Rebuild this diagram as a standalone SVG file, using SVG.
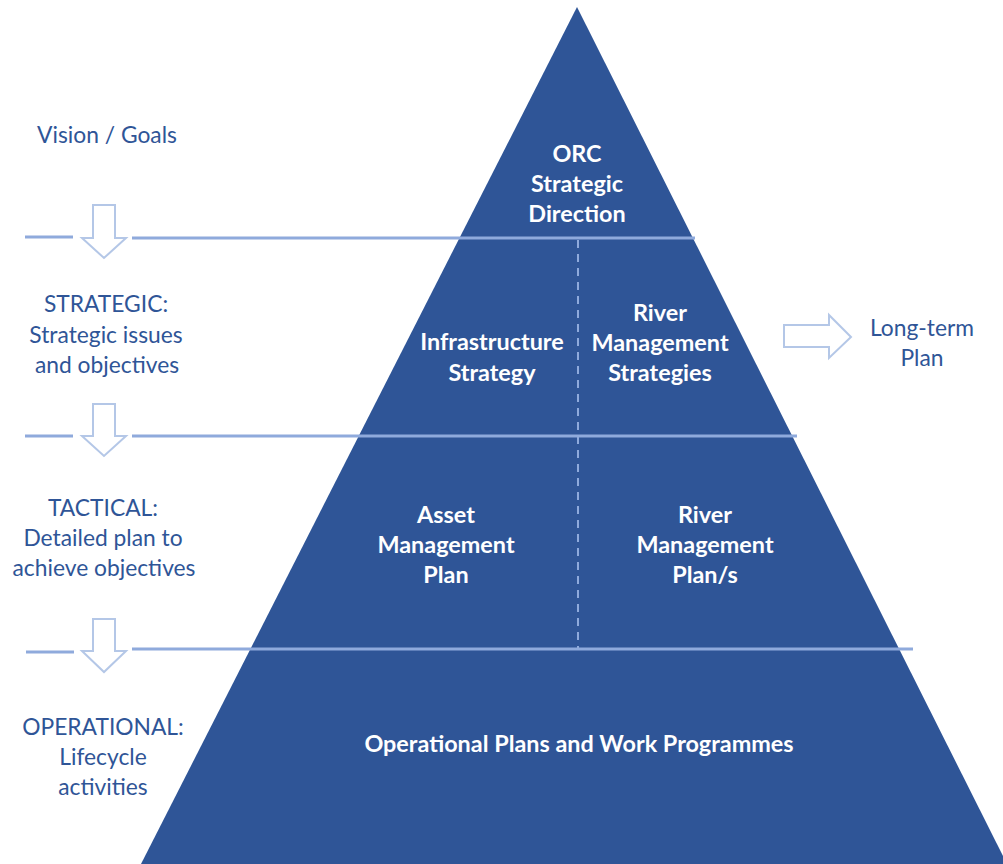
<svg xmlns="http://www.w3.org/2000/svg" width="1003" height="864" viewBox="0 0 1003 864">
<style>
.t{font-family:Lato,"Open Sans","Liberation Sans",sans-serif;font-size:22.8px;text-anchor:middle}
.w{fill:#ffffff;font-weight:bold;font-size:23.4px}
.b{fill:#2F5597}
.ln{stroke:#8FAADC;stroke-width:3;fill:none}
.ar{fill:#ffffff;stroke:#B4C7E7;stroke-width:2}
</style>
<rect width="1003" height="864" fill="#ffffff"/>
<g id="pyramid">
<polygon points="577,7 1007,864 141,864" fill="#2F5597"/>
</g>
<g id="connectors">
<line class="ln" x1="25" y1="237" x2="73" y2="237"/>
<line class="ln" x1="132" y1="238" x2="695" y2="238"/>
<line class="ln" x1="25" y1="436" x2="73" y2="436"/>
<line class="ln" x1="132" y1="436" x2="797" y2="436"/>
<line class="ln" x1="26" y1="652" x2="74" y2="652"/>
<line class="ln" x1="132" y1="649" x2="913" y2="649"/>
<line x1="578" y1="240" x2="578" y2="648" stroke="#8FAADC" stroke-width="2" stroke-dasharray="8,6"/>
<polygon class="ar" points="93,205 115,205 115,238 126,238 104,258 82,238 93,238"/>
<polygon class="ar" points="93,404 115,404 115,436 126,436 104,456 82,436 93,436"/>
<polygon class="ar" points="93,619 115,619 115,651 126,651 104,672 82,651 93,651"/>
<polygon class="ar" points="784,325 829,325 829,315 851,337 829,358 829,347 784,347"/>
</g>
<g id="vision"><text class="t b" x="107" y="143">Vision / Goals</text></g>
<g id="strategic-label"><text class="t b" x="106" y="312">STRATEGIC:</text><text class="t b" x="106" y="343">Strategic issues</text><text class="t b" x="107" y="373">and objectives</text></g>
<g id="tactical-label"><text class="t b" x="103" y="516">TACTICAL:</text><text class="t b" x="103" y="546">Detailed plan to</text><text class="t b" x="104" y="576">achieve objectives</text></g>
<g id="operational-label"><text class="t b" x="103" y="735">OPERATIONAL:</text><text class="t b" x="103" y="765">Lifecycle</text><text class="t b" x="103" y="795">activities</text></g>
<g id="longterm"><text class="t b" x="922" y="336">Long-term</text><text class="t b" x="922" y="366">Plan</text></g>
<g id="orc"><text class="t w" x="577" y="162">ORC</text><text class="t w" x="577" y="192">Strategic</text><text class="t w" x="577" y="222">Direction</text></g>
<g id="infra"><text class="t w" x="492" y="350">Infrastructure</text><text class="t w" x="492" y="381">Strategy</text></g>
<g id="rms"><text class="t w" x="660" y="321">River</text><text class="t w" x="660" y="351">Management</text><text class="t w" x="660" y="381">Strategies</text></g>
<g id="amp"><text class="t w" x="446" y="523">Asset</text><text class="t w" x="446" y="553">Management</text><text class="t w" x="446" y="583">Plan</text></g>
<g id="rmp"><text class="t w" x="705" y="523">River</text><text class="t w" x="705" y="553">Management</text><text class="t w" x="705" y="583">Plan/s</text></g>
<g id="ops"><text class="t w" x="579" y="752">Operational Plans and Work Programmes</text></g>
</svg>
